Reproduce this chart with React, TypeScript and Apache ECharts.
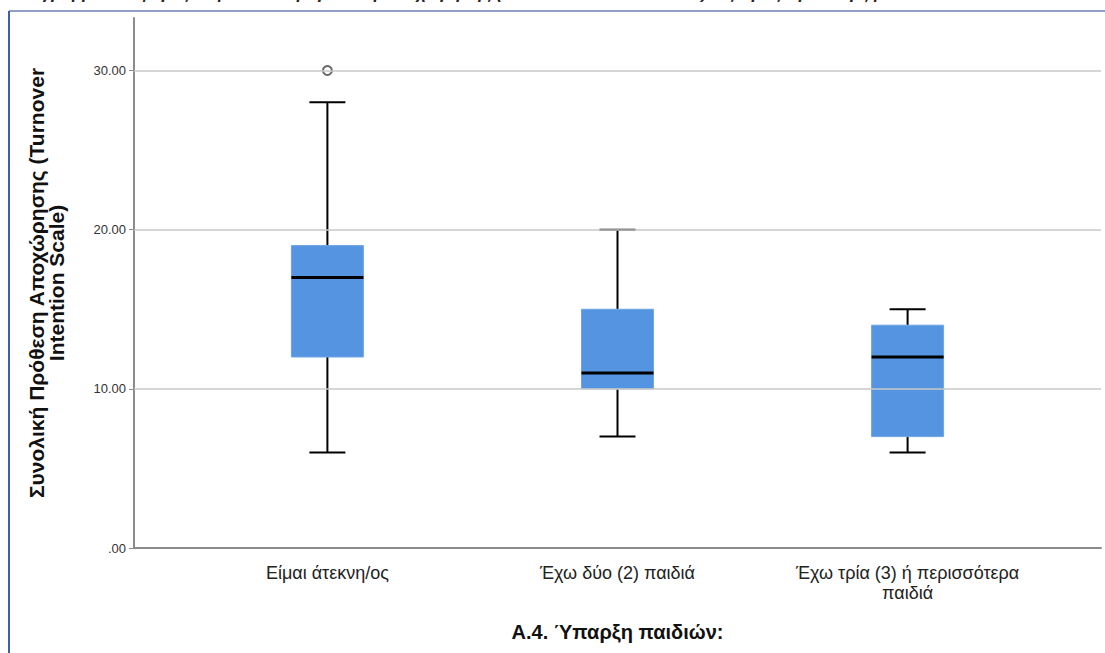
import React, { useEffect, useRef } from 'react';
import * as echarts from 'echarts';

const categories = ['Είμαι άτεκνη/ος', 'Έχω δύο (2) παιδιά', 'Έχω τρία (3) ή περισσότερα\nπαιδιά'];
const categoryPositions = [2, 5, 8];
const whiskerLow = [6, 7, 6];
const q1 = [12, 10, 7];
const median = [17, 11, 12];
const q3 = [19, 15, 14];
const whiskerHigh = [28, 20, 15];
const outliers: number[][] = [[2, 30]];
const yTicks = [0, 10, 20, 30];
const yTickLabels = ['.00', '10.00', '20.00', '30.00'];
const gridValues = [10, 20, 30];

const yAxisName = 'Συνολική Πρόθεση Αποχώρησης (Turnover\nIntention Scale)';
const xAxisName = 'A.4. Ύπαρξη παιδιών:';
const clippedTitle = 'Διάγραμμα: Διαφορές στη Συνολική Πρόθεση Αποχώρησης (Turnover Intention Scale) ως προς την ύπαρξη παιδιών';

export default function App() {
  const ref = useRef<HTMLDivElement>(null);
  useEffect(() => {
    if (!ref.current) return;
    const chart = echarts.init(ref.current, null, { renderer: 'svg' });
    const boxData = categoryPositions.map((p, i) => [p, whiskerLow[i], q1[i], median[i], q3[i], whiskerHigh[i]]);
    const font = '"Liberation Sans", Arial, sans-serif';
    chart.setOption({
      animation: false,
      backgroundColor: '#ffffff',
      textStyle: { fontFamily: font },
      grid: { left: 134, right: 4, top: 18, bottom: 105, containLabel: false },
      xAxis: {
        type: 'value',
        min: 0,
        max: 10,
        interval: 1,
        name: xAxisName,
        nameLocation: 'middle',
        nameGap: 74,
        nameTextStyle: { fontFamily: font, fontSize: 20, fontWeight: 'bold', color: '#111' },
        axisLine: { show: true, onZero: false, lineStyle: { color: '#8c8c8c', width: 2 } },
        axisTick: { show: false },
        splitLine: { show: false },
        axisLabel: {
          fontFamily: font,
          fontSize: 18,
          lineHeight: 20,
          color: '#222',
          margin: 15,
          formatter: (v: number) => {
            const i = categoryPositions.indexOf(v);
            return i >= 0 ? categories[i] : '';
          },
        },
      },
      yAxis: {
        type: 'value',
        min: 0,
        max: 33.3,
        interval: 10,
        name: yAxisName,
        nameLocation: 'middle',
        nameGap: 68,
        nameRotate: 90,
        nameTextStyle: { fontFamily: font, fontSize: 21, fontWeight: 'bold', color: '#111', lineHeight: 20 },
        axisLine: { show: true, lineStyle: { color: '#8c8c8c', width: 2 } },
        axisTick: { show: true, length: 5, customValues: yTicks, lineStyle: { color: '#8c8c8c', width: 1 } },
        splitLine: { show: false },
        axisLabel: {
          fontFamily: font,
          fontSize: 13,
          color: '#333',
          margin: 8,
          customValues: yTicks,
          formatter: (v: number) => {
            const i = yTicks.indexOf(v);
            return i >= 0 ? yTickLabels[i] : '';
          },
        },
      },
      series: [
        {
          type: 'line',
          data: [],
          z: 1,
          silent: true,
          markLine: {
            silent: true,
            symbol: 'none',
            label: { show: false },
            lineStyle: { color: '#c8c8c8', width: 1.5, type: 'solid' },
            data: gridValues.map((v) => ({ yAxis: v })),
          },
        },
        {
          type: 'custom',
          z: 3,
          data: boxData,
          encode: { x: 0, y: [1, 2, 3, 4, 5] },
          renderItem: (_params: any, api: any) => {
            const x = api.value(0);
            const lo = api.coord([x, api.value(1)]);
            const b1 = api.coord([x, api.value(2)]);
            const md = api.coord([x, api.value(3)]);
            const b3 = api.coord([x, api.value(4)]);
            const hi = api.coord([x, api.value(5)]);
            const cx = lo[0];
            const bw = 72;
            const cw = 36;
            const ls = { stroke: '#000', lineWidth: 2 };
            return {
              type: 'group',
              children: [
                { type: 'line', shape: { x1: cx, y1: hi[1], x2: cx, y2: b3[1] }, style: ls },
                { type: 'line', shape: { x1: cx, y1: b1[1], x2: cx, y2: lo[1] }, style: ls },
                { type: 'line', shape: { x1: cx - cw / 2, y1: hi[1], x2: cx + cw / 2, y2: hi[1] }, style: ls },
                { type: 'line', shape: { x1: cx - cw / 2, y1: lo[1], x2: cx + cw / 2, y2: lo[1] }, style: ls },
                {
                  type: 'rect',
                  shape: { x: cx - bw / 2, y: b3[1], width: bw, height: b1[1] - b3[1] },
                  style: { fill: '#5594e1', stroke: '#6ea5e6', lineWidth: 1 },
                },
                { type: 'line', shape: { x1: cx - bw / 2, y1: md[1], x2: cx + bw / 2, y2: md[1] }, style: { stroke: '#000', lineWidth: 3 } },
              ],
            };
          },
        },
        {
          type: 'scatter',
          z: 4,
          data: outliers,
          symbol: 'circle',
          symbolSize: 9,
          itemStyle: { color: '#ffffff', borderColor: '#444', borderWidth: 2 },
        },
      ],
      graphic: [
        {
          type: 'text',
          left: 15,
          top: -15,
          style: { text: clippedTitle, font: 'italic bold 17px "Liberation Sans", Arial, sans-serif', fill: '#222' },
        },
        { type: 'line', shape: { x1: 9, y1: 11, x2: 1105, y2: 11 }, style: { stroke: '#8ea0c6', lineWidth: 2 } },
        { type: 'line', shape: { x1: 9, y1: 11, x2: 9, y2: 653 }, style: { stroke: '#3f5fae', lineWidth: 2 } },
      ],
    });
    return () => chart.dispose();
  }, []);
  return <div ref={ref} style={{ position: 'fixed', left: 0, top: 0, width: 1105, height: 653, background: '#fff' }} />;
}
